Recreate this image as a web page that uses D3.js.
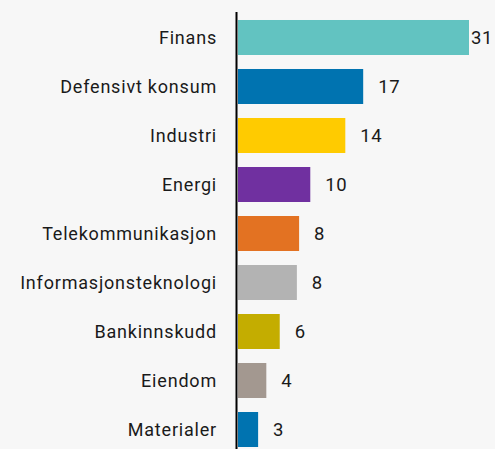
<!DOCTYPE html>
<html>
<head>
<meta charset="utf-8">
<script src="https://cdn.jsdelivr.net/npm/d3@7"></script>
<style>
  body { margin: 0; background: #f7f7f7; }
  svg { display: block; }
</style>
</head>
<body>
<div id="chart"></div>
<script>
// sektorfordeling, prosent
var sektorer = ["Finans", "Defensivt konsum", "Industri", "Energi", "Telekommunikasjon",
                "Informasjonsteknologi", "Bankinnskudd", "Eiendom", "Materialer"];
var andel = [31, 16.8, 14.4, 9.7, 8.2, 7.9, 5.6, 3.8, 2.7];
var farger = ["#62c3c1", "#0073b0", "#ffcb00", "#7030a0", "#e37222",
              "#b3b3b3", "#c4ad00", "#a39890", "#0073b0"];

var w = 495;
var h = 449;
var margin = {top: 13, left: 238, right: 26};
var fontFam = "Roboto, sans-serif";

var svg = d3.select("#chart").append("svg")
   .attr("width", w)
   .attr("height", h);

var x = d3.scaleLinear()
   .domain([0, d3.max(andel)])
   .range([margin.left, w - margin.right]);

var y = d3.scaleBand()
   .domain(sektorer)
   .range([margin.top, margin.top + 441])
   .paddingInner(0.2857)
   .paddingOuter(0.1428);

var data = sektorer.map(function(s, i) {
  return {navn: s, verdi: andel[i], farge: farger[i]};
});

svg.selectAll("rect.bar")
   .data(data)
   .enter()
   .append("rect")
   .attr("class", "bar")
   .attr("x", x(0))
   .attr("y", function(d) { return y(d.navn); })
   .attr("width", function(d) { return x(d.verdi) - x(0); })
   .attr("height", y.bandwidth())
   .attr("fill", function(d) { return d.farge; });

// kategori-tekst til venstre
svg.selectAll("text.kat")
   .data(data)
   .enter()
   .append("text")
   .attr("class", "kat")
   .text(function(d) { return d.navn; })
   .attr("x", x(0) - 21)
   .attr("y", function(d) { return y(d.navn) + y.bandwidth() / 2; })
   .attr("dy", "0.36em")
   .attr("text-anchor", "end")
   .attr("font-family", fontFam)
   .attr("font-size", "18px")
   .attr("letter-spacing", "0.8px")
   .attr("fill", "#1a1a1a");

// verdier
var fmt = d3.format(".0f");
svg.selectAll("text.verdi")
   .data(data)
   .enter()
   .append("text")
   .attr("class", "verdi")
   .text(function(d) { return fmt(d.verdi); })
   .attr("x", function(d) {
      var px = x(d.verdi) + 15;
      if (px + 24 > w) px = x(d.verdi) + 2;
      return px;
   })
   .attr("y", function(d) { return y(d.navn) + y.bandwidth() / 2; })
   .attr("dy", "0.36em")
   .attr("font-family", fontFam)
   .attr("font-size", "18.5px")
   .attr("letter-spacing", "0.6px")
   .attr("fill", "#1a1a1a");

// akse
svg.append("line")
   .attr("x1", x(0) - 1.5).attr("x2", x(0) - 1.5)
   .attr("y1", 12).attr("y2", h)
   .attr("stroke", "#000")
   .attr("stroke-width", 2);
</script>
</body>
</html>
